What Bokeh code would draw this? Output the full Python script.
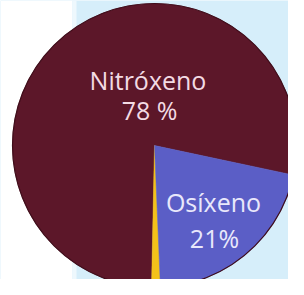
import numpy as np
from bokeh.plotting import figure
from bokeh.models import ColumnDataSource, BoxAnnotation, Range1d
from bokeh.core.properties import value
from bokeh.embed import file_html
from bokeh.resources import INLINE

# data
gases = ["Nitróxeno", "Outros", "Osíxeno"]
percent = [78, 1, 21]
colors = ["#5c1729", "#f4c21a", "#5b5ec6"]

labels = ["Nitróxeno", "Osíxeno"]
label_pct = ["78 %", "21%"]
label_colors = ["#f3dbe4", "#e9e8fb"]

# layout
W, H = 288, 279
R = 142
start_deg = -12.0
x0, y0 = 0.0, 0.0

frac = np.array(percent, dtype=float) / sum(percent)
ends = np.deg2rad(start_deg) + np.cumsum(frac) * 2 * np.pi
starts = np.concatenate([[np.deg2rad(start_deg)], ends[:-1]])

src = ColumnDataSource(dict(gas=gases, start=starts, end=ends, color=colors))

p = figure(width=W, height=H, output_backend="svg", toolbar_location=None,
           x_range=Range1d(-154, 134), y_range=Range1d(-134, 145),
           min_border=0)
p.axis.visible = False
p.xgrid.visible = False
p.ygrid.visible = False
p.outline_line_color = None
p.background_fill_color = "#d6eefa"
p.border_fill_color = "#d6eefa"

# white strip on the left (decoration)
p.add_layout(BoxAnnotation(left=0, right=72, left_units="screen", right_units="screen",
                           fill_color="white", fill_alpha=1.0, line_color=None, level="underlay"))
p.add_layout(BoxAnnotation(left=72, right=76, left_units="screen", right_units="screen",
                           fill_color="#eef8fd", fill_alpha=1.0, line_color=None, level="underlay"))

p.wedge(x=x0, y=y0, radius=R, start_angle="start", end_angle="end",
        fill_color="color", line_color="color", line_width=0.5, source=src)
p.circle(x=[x0], y=[y0], radius=R, fill_color=None, line_color="#3f0d1a", line_width=1.2)

# labels: offsets relative to the pie centre
name_dx = [-6.5, 59]
name_dy = [66, -56]
pct_dx = [-5, 60]
pct_dy = [36, -92]

lab = ColumnDataSource(dict(
    nx=[x0 + d for d in name_dx], ny=[y0 + d for d in name_dy],
    px=[x0 + d for d in pct_dx], py=[y0 + d for d in pct_dy],
    name=labels, pct=label_pct, col=label_colors))
p.text(x="nx", y="ny", text="name", source=lab, text_color="col",
       text_font=value("Open Sans"), text_font_size="25px",
       text_align="center", text_baseline="alphabetic")
p.text(x="px", y="py", text="pct", source=lab, text_color="col",
       text_font=value("Open Sans"), text_font_size="25px",
       text_align="center", text_baseline="alphabetic")

open("out.html", "w").write(file_html(p, INLINE))
